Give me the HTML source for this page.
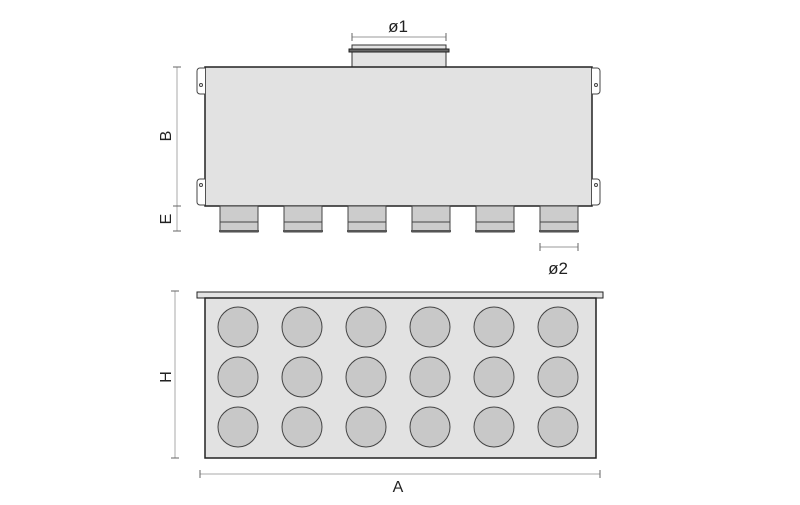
<!DOCTYPE html>
<html><head><style>body{margin:0;background:#fff}svg{display:block}</style></head><body>
<svg width="800" height="505" viewBox="0 0 800 505" xmlns="http://www.w3.org/2000/svg" font-family="Liberation Sans, sans-serif">
<!-- top view -->
<rect x="352" y="45" width="94" height="22" fill="#e3e3e3" stroke="#333" stroke-width="1"/>
<rect x="349" y="49" width="100" height="3" fill="#666" stroke="#222" stroke-width="1"/>
<line x1="352" y1="37" x2="446" y2="37" stroke="#999"/>
<line x1="352" y1="33" x2="352" y2="41" stroke="#666"/><line x1="446" y1="33" x2="446" y2="41" stroke="#666"/>
<text x="398" y="32" font-size="17" text-anchor="middle" fill="#222">ø1</text>
<rect x="205" y="67" width="387" height="139" fill="#e2e2e2" stroke="#222" stroke-width="1.5"/>
<g fill="#fff" stroke="#444" stroke-width="1">
<path d="M205 68 h-5 a3 3 0 0 0 -3 3 v20 a3 3 0 0 0 3 3 h5"/>
<path d="M205 179 h-5 a3 3 0 0 0 -3 3 v20 a3 3 0 0 0 3 3 h5"/>
<path d="M592 68 h5 a3 3 0 0 1 3 3 v20 a3 3 0 0 1 -3 3 h-5"/>
<path d="M592 179 h5 a3 3 0 0 1 3 3 v20 a3 3 0 0 1 -3 3 h-5"/>
<circle cx="201" cy="85" r="1.5"/><circle cx="201" cy="185" r="1.5"/>
<circle cx="596" cy="85" r="1.5"/><circle cx="596" cy="185" r="1.5"/>
</g>
<g fill="#ccc" stroke="#444" stroke-width="1">
<rect x="220" y="206" width="38" height="26"/><line x1="220" y1="222" x2="258" y2="222"/>
<rect x="284" y="206" width="38" height="26"/><line x1="284" y1="222" x2="322" y2="222"/>
<rect x="348" y="206" width="38" height="26"/><line x1="348" y1="222" x2="386" y2="222"/>
<rect x="412" y="206" width="38" height="26"/><line x1="412" y1="222" x2="450" y2="222"/>
<rect x="476" y="206" width="38" height="26"/><line x1="476" y1="222" x2="514" y2="222"/>
<rect x="540" y="206" width="38" height="26"/><line x1="540" y1="222" x2="578" y2="222"/>
</g>
<g stroke="#555" stroke-width="2">
<line x1="219" y1="231" x2="259" y2="231"/><line x1="283" y1="231" x2="323" y2="231"/><line x1="347" y1="231" x2="387" y2="231"/>
<line x1="411" y1="231" x2="451" y2="231"/><line x1="475" y1="231" x2="515" y2="231"/><line x1="539" y1="231" x2="579" y2="231"/>
</g>
<line x1="177" y1="67" x2="177" y2="231" stroke="#aaa"/>
<g stroke="#666"><line x1="173" y1="67" x2="181" y2="67"/><line x1="173" y1="206" x2="181" y2="206"/><line x1="173" y1="231" x2="181" y2="231"/></g>
<text transform="translate(171,136) rotate(-90)" font-size="16" text-anchor="middle" fill="#222">B</text>
<text transform="translate(171,219) rotate(-90)" font-size="16" text-anchor="middle" fill="#222">E</text>
<line x1="540" y1="247" x2="578" y2="247" stroke="#999"/>
<line x1="540" y1="243" x2="540" y2="251" stroke="#666"/><line x1="578" y1="243" x2="578" y2="251" stroke="#666"/>
<text x="558" y="274" font-size="17" text-anchor="middle" fill="#222">ø2</text>
<!-- front view -->
<rect x="197" y="292" width="406" height="6" fill="#e3e3e3" stroke="#222" stroke-width="1"/>
<rect x="205" y="298" width="391" height="160" fill="#e2e2e2" stroke="#222" stroke-width="1.5"/>
<g fill="#c8c8c8" stroke="#444" stroke-width="1">
<circle cx="238" cy="327" r="20"/><circle cx="302" cy="327" r="20"/><circle cx="366" cy="327" r="20"/><circle cx="430" cy="327" r="20"/><circle cx="494" cy="327" r="20"/><circle cx="558" cy="327" r="20"/>
<circle cx="238" cy="377" r="20"/><circle cx="302" cy="377" r="20"/><circle cx="366" cy="377" r="20"/><circle cx="430" cy="377" r="20"/><circle cx="494" cy="377" r="20"/><circle cx="558" cy="377" r="20"/>
<circle cx="238" cy="427" r="20"/><circle cx="302" cy="427" r="20"/><circle cx="366" cy="427" r="20"/><circle cx="430" cy="427" r="20"/><circle cx="494" cy="427" r="20"/><circle cx="558" cy="427" r="20"/>
</g>
<line x1="175" y1="291" x2="175" y2="458" stroke="#aaa"/>
<g stroke="#666"><line x1="171" y1="291" x2="179" y2="291"/><line x1="171" y1="458" x2="179" y2="458"/></g>
<text transform="translate(171,377) rotate(-90)" font-size="16" text-anchor="middle" fill="#222">H</text>
<line x1="200" y1="474" x2="600" y2="474" stroke="#aaa"/>
<g stroke="#666"><line x1="200" y1="470" x2="200" y2="478"/><line x1="600" y1="470" x2="600" y2="478"/></g>
<text x="398" y="492" font-size="16" text-anchor="middle" fill="#222">A</text>
</svg>
</body></html>
